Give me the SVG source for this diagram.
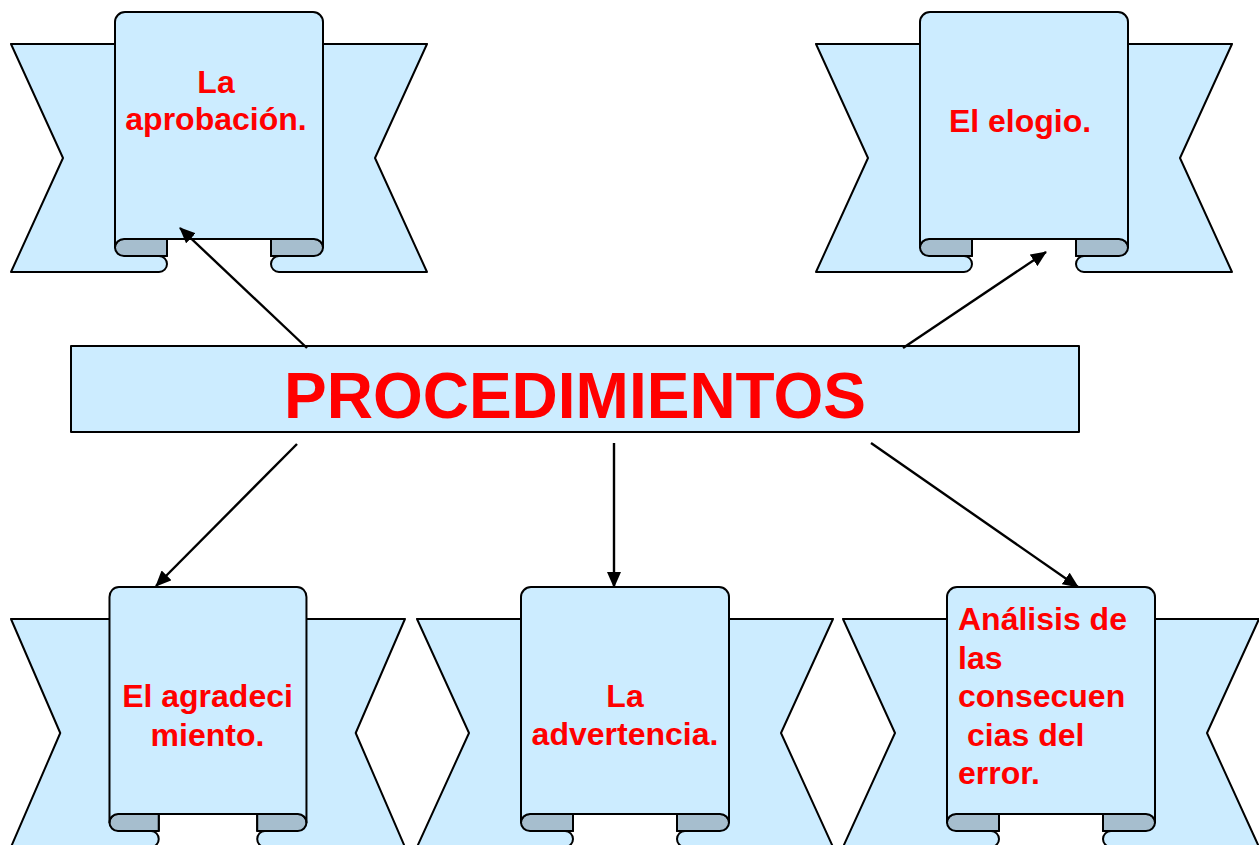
<svg xmlns="http://www.w3.org/2000/svg" xmlns:xlink="http://www.w3.org/1999/xlink" width="1259" height="845" viewBox="0 0 1259 845">
  <style>
    .lt { fill: #CCECFF; stroke: #000; stroke-width: 2; stroke-linejoin: round; }
    .dk { fill: #A6BECE; stroke: #000; stroke-width: 2; stroke-linejoin: round; }
    .lbl { font-family: "Liberation Sans", Arial, sans-serif; font-weight: bold; font-size: 32px; fill: #FF0000; }
    .title { font-family: "Liberation Sans", Arial, sans-serif; font-weight: bold; font-size: 64px; fill: #FF0000; }
    .conn { stroke: #000; stroke-width: 2.4; fill: none; }
  </style>
  <defs>
    <marker id="arrow" viewBox="0 0 16 14" refX="15" refY="7" markerWidth="16" markerHeight="14" markerUnits="userSpaceOnUse" orient="auto">
      <path d="M0,0 L16,7 L0,14 Z" fill="#000"/>
    </marker>
    <g id="banner">
      <path class="lt" vector-effect="non-scaling-stroke" d="M0,32 L156,32 L156,244 L148,244 A8,8 0 0 1 148,260 L0,260 L52,146 Z"/>
      <path class="lt" vector-effect="non-scaling-stroke" d="M416,32 L260,32 L260,244 L268,244 A8,8 0 0 0 268,260 L416,260 L364,146 Z"/>
      <path class="dk" vector-effect="non-scaling-stroke" d="M113,227 L156,227 L156,244 L113,244 A9,8.5 0 0 1 113,227 Z"/>
      <path class="dk" vector-effect="non-scaling-stroke" d="M303,227 L260,227 L260,244 L303,244 A9,8.5 0 0 0 303,227 Z"/>
      <path class="lt" vector-effect="non-scaling-stroke" d="M104,235.5 L104,10 A10,10 0 0 1 114,0 L302,0 A10,10 0 0 1 312,10 L312,235.5 A9,8.5 0 0 0 303,227 L113,227 A9,8.5 0 0 0 104,235.5 Z"/>
    </g>
  </defs>
  <rect width="1259" height="845" fill="#FFFFFF"/>

  <g id="node-aprobacion">
    <use xlink:href="#banner" href="#banner" transform="translate(11,12)"/>
    <text class="lbl" x="216" y="93" text-anchor="middle">La</text>
    <text class="lbl" x="216" y="130" text-anchor="middle">aprobación.</text>
  </g>

  <g id="node-elogio">
    <use xlink:href="#banner" href="#banner" transform="translate(816,12)"/>
    <text class="lbl" x="1020" y="132" text-anchor="middle">El elogio.</text>
  </g>

  <g id="node-procedimientos">
    <rect class="lt" x="71" y="346" width="1008" height="86"/>
    <text class="title" x="575" y="418" text-anchor="middle">PROCEDIMIENTOS</text>
  </g>

  <g id="node-agradecimiento">
    <use xlink:href="#banner" href="#banner" transform="translate(11,587) scale(0.947,1)"/>
    <text class="lbl" x="207.5" y="707" text-anchor="middle">El agradeci</text>
    <text class="lbl" x="207.5" y="746" text-anchor="middle">miento.</text>
  </g>

  <g id="node-advertencia">
    <use xlink:href="#banner" href="#banner" transform="translate(417,587)"/>
    <text class="lbl" x="625" y="707" text-anchor="middle">La</text>
    <text class="lbl" x="625" y="745" text-anchor="middle">advertencia.</text>
  </g>

  <g id="node-analisis">
    <use xlink:href="#banner" href="#banner" transform="translate(843,587)"/>
    <text class="lbl" x="958" y="630">Análisis de</text>
    <text class="lbl" x="958" y="669">las</text>
    <text class="lbl" x="958" y="707">consecuen</text>
    <text class="lbl" x="967" y="746">cias del</text>
    <text class="lbl" x="958" y="784">error.</text>
  </g>

  <g id="connectors">
    <line class="conn" x1="307" y1="348" x2="180" y2="228" marker-end="url(#arrow)"/>
    <line class="conn" x1="903" y1="348" x2="1046" y2="252" marker-end="url(#arrow)"/>
    <line class="conn" x1="297" y1="444" x2="156" y2="586" marker-end="url(#arrow)"/>
    <line class="conn" x1="614" y1="443" x2="614" y2="587" marker-end="url(#arrow)"/>
    <line class="conn" x1="871" y1="443" x2="1078" y2="587" marker-end="url(#arrow)"/>
  </g>
</svg>
